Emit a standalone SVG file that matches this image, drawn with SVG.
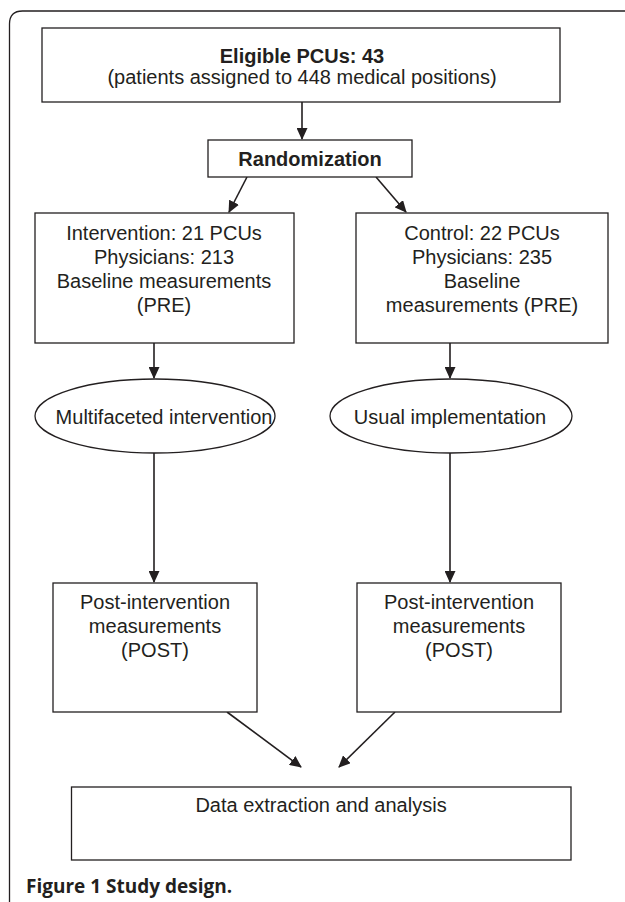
<svg xmlns="http://www.w3.org/2000/svg" width="625" height="902" viewBox="0 0 625 902">
<style>
.box{fill:#fff;stroke:#231f20;stroke-width:1.3}
.t{font-family:"Liberation Sans",Arial,sans-serif;font-size:20px;fill:#231f20;text-anchor:middle}
.b{font-weight:bold}
.cap{font-family:"Open Sans","Noto Sans",sans-serif;font-size:19px;font-weight:bold;fill:#231f20}
.c{stroke:#231f20;stroke-width:1.6;fill:none;marker-end:url(#ah)}
</style>
<defs>
<marker id="ah" viewBox="0 0 12 11" refX="11" refY="5.5" markerWidth="12" markerHeight="11" markerUnits="userSpaceOnUse" orient="auto">
<path d="M0,0 L12,5.5 L0,11 z" fill="#231f20"/>
</marker>
</defs>
<rect width="625" height="902" fill="#fff"/>
<path d="M9.5,902 V24 Q9.5,11 22.5,11 H625" fill="none" stroke="#231f20" stroke-width="1.3"/>
<g id="connectors">
<line class="c" x1="302" y1="102" x2="302" y2="139"/>
<line class="c" x1="247" y1="177" x2="229" y2="212"/>
<line class="c" x1="376" y1="177" x2="406" y2="212"/>
<line class="c" x1="154" y1="343" x2="154" y2="378"/>
<line class="c" x1="450" y1="343" x2="450" y2="378"/>
<line class="c" x1="154" y1="453" x2="154" y2="582"/>
<line class="c" x1="450" y1="453" x2="450" y2="582"/>
<line class="c" x1="227" y1="712" x2="301" y2="767"/>
<line class="c" x1="395" y1="712" x2="339" y2="767"/>
</g>
<g id="eligible">
<rect class="box" x="42" y="28" width="518" height="74"/>
<text class="t b" x="302" y="63">Eligible PCUs: 43</text>
<text class="t" x="302" y="84">(patients assigned to 448 medical positions)</text>
</g>
<g id="randomization">
<rect class="box" x="208" y="140" width="204" height="37"/>
<text class="t b" x="310" y="166">Randomization</text>
</g>
<g id="intervention">
<rect class="box" x="35" y="213" width="259" height="130"/>
<text class="t" x="164" y="240">Intervention: 21 PCUs</text>
<text class="t" x="164" y="264">Physicians: 213</text>
<text class="t" x="164" y="288">Baseline measurements</text>
<text class="t" x="164" y="312">(PRE)</text>
</g>
<g id="control">
<rect class="box" x="356" y="213" width="252" height="130"/>
<text class="t" x="482" y="240">Control: 22 PCUs</text>
<text class="t" x="482" y="264">Physicians: 235</text>
<text class="t" x="482" y="288">Baseline</text>
<text class="t" x="482" y="312">measurements (PRE)</text>
</g>
<g id="multifaceted">
<ellipse class="box" cx="155" cy="416" rx="120" ry="37"/>
<text class="t" x="164" y="424">Multifaceted intervention</text>
</g>
<g id="usual">
<ellipse class="box" cx="451" cy="416" rx="121" ry="37"/>
<text class="t" x="450" y="424">Usual implementation</text>
</g>
<g id="post-left">
<rect class="box" x="53" y="583" width="204" height="129"/>
<text class="t" x="155" y="609">Post-intervention</text>
<text class="t" x="155" y="633">measurements</text>
<text class="t" x="155" y="657">(POST)</text>
</g>
<g id="post-right">
<rect class="box" x="357" y="583" width="204" height="129"/>
<text class="t" x="459" y="609">Post-intervention</text>
<text class="t" x="459" y="633">measurements</text>
<text class="t" x="459" y="657">(POST)</text>
</g>
<g id="data">
<rect class="box" x="71.5" y="787" width="499.5" height="73"/>
<text class="t" x="321" y="812">Data extraction and analysis</text>
</g>
<text class="cap" x="26" y="893">Figure 1 Study design.</text>
</svg>
